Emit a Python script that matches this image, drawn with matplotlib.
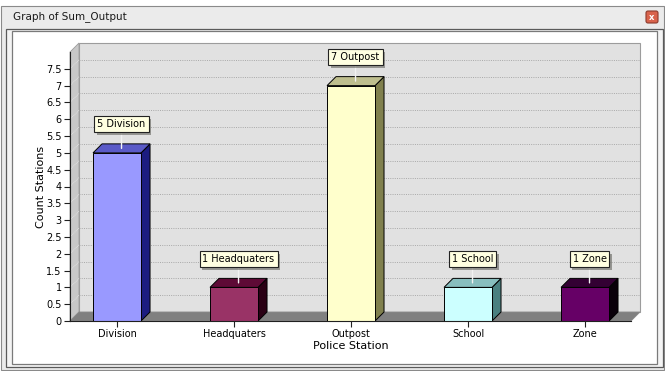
import matplotlib.pyplot as plt
from matplotlib.patches import Polygon, Rectangle, FancyBboxPatch
import matplotlib.patheffects as pe
import numpy as np

# data
categories = ['Division', 'Headquaters', 'Outpost', 'School', 'Zone']
counts = [5, 1, 7, 1, 1]
front_colors = ['#9999ff', '#993366', '#ffffcc', '#ccffff', '#660066']
top_colors = ['#5a5ac8', '#5e0a36', '#bebe8e', '#88bebe', '#330033']
side_colors = ['#1c1c80', '#2a0014', '#80804e', '#4a8080', '#0a000a']
yticks = np.arange(0, 8, 0.5)

W, H = 665, 371
fig = plt.figure(figsize=(W / 100, H / 100), dpi=100)

# window chrome drawn in a pixel-space background axes
bg = fig.add_axes([0, 0, 1, 1])
bg.set_xlim(0, W)
bg.set_ylim(H, 0)
bg.axis('off')
bg.add_patch(Rectangle((0, 0), W, H, fc='white', ec='none'))
bg.add_patch(Rectangle((1, 6), W - 2, H - 7, fc='#ebebeb', ec='#8a8a8a', lw=0.8))
grad = np.linspace(0, 1, 200).reshape(1, -1)
bg.imshow(np.vstack([grad] * 2), extent=(2, W - 2, 28, 7), cmap='Greys',
          vmin=-3.5, vmax=5, aspect='auto', alpha=0.35)
bg.text(13, 17, 'Graph of Sum_Output', fontsize=7.5, va='center', ha='left', color='#1a1a1a')
bg.add_patch(FancyBboxPatch((646, 11), 12, 12, boxstyle='round,pad=0,rounding_size=2',
                            fc='#d9634c', ec='#8c3a2c', lw=0.8))
bg.text(652, 17.5, 'x', fontsize=6, ha='center', va='center', color='white', fontweight='bold')
bg.add_patch(Rectangle((6, 29), 657, 338, fc='#f4f4f4', ec='#5a5a5a', lw=0.9))
bg.add_patch(Rectangle((12, 31), 645, 333, fc='white', ec='#7a7a7a', lw=0.9))

# chart axes
x_lo, x_hi = -0.402, 4.393
ymax = 8
ax = fig.add_axes([70 / W, 50 / H, 561 / W, 269 / H])
ax.set_xlim(x_lo, x_hi)
ax.set_ylim(0, ymax)
ax.patch.set_alpha(0)

px_x = 561 / (x_hi - x_lo)
px_y = 269 / ymax
dx, dy = 9 / px_x, 9 / px_y

# walls and floor
ax.add_patch(Rectangle((x_lo + dx, dy), x_hi - x_lo, ymax, fc='#e1e1e1', ec='#9c9c9c',
                       lw=0.8, zorder=0, clip_on=False))
ax.add_patch(Polygon([(x_lo, 0), (x_lo, ymax), (x_lo + dx, ymax + dy), (x_lo + dx, dy)],
                     fc='#c8c8c8', ec='#9c9c9c', lw=0.6, zorder=1, clip_on=False))
ax.add_patch(Polygon([(x_lo, 0), (x_hi, 0), (x_hi + dx, dy), (x_lo + dx, dy)],
                     fc='#808080', ec='#8a8a8a', lw=0.6, zorder=1, clip_on=False))
for y in yticks[1:]:
    ax.plot([x_lo + dx, x_hi + dx], [y + dy, y + dy], ls=(0, (1, 1.3)), color='#a8a8a8',
            lw=0.7, zorder=0.5, clip_on=False)
    ax.plot([x_lo, x_lo + dx], [y, y + dy], ls=(0, (1, 1)), color='#e6e6e6',
            lw=0.6, zorder=1.5, clip_on=False)

# 3D bars
w = 48 / px_x
for i, v in enumerate(counts):
    x0, x1 = i - w / 2, i + w / 2
    ax.add_patch(Polygon([(x1, 0), (x1 + dx, dy), (x1 + dx, v + dy), (x1, v)],
                         fc=side_colors[i], ec='black', lw=0.7, zorder=3, clip_on=False))
    ax.add_patch(Polygon([(x0, v), (x1, v), (x1 + dx, v + dy), (x0 + dx, v + dy)],
                         fc=top_colors[i], ec='black', lw=0.7, zorder=3, clip_on=False))
    ax.add_patch(Rectangle((x0, 0), w, v, fc=front_colors[i], ec='black', lw=0.7,
                           zorder=4, clip_on=False))
    t = ax.annotate(f'{v} {categories[i]}', xy=(i + dx / 2, v + dy / 2), xytext=(0, 19),
                    textcoords='offset pixels', ha='center', va='bottom', fontsize=7,
                    color='black', zorder=6,
                    bbox=dict(boxstyle='square,pad=0.3', fc='#ffffe1', ec='#222222', lw=0.8),
                    arrowprops=dict(arrowstyle='-', color='#f2f2f2', lw=1, shrinkA=0, shrinkB=0))
    t.get_bbox_patch().set_path_effects([pe.SimplePatchShadow(offset=(2, -2), alpha=0.5),
                                         pe.Normal()])

# axes styling
for s in ['top', 'right']:
    ax.spines[s].set_visible(False)
ax.spines['left'].set_color('#202020')
ax.spines['bottom'].set_color('#202020')
ax.spines['left'].set_zorder(5)
ax.spines['bottom'].set_zorder(5)
ax.set_yticks(yticks)
ax.set_yticklabels([f'{t:g}' for t in yticks])
ax.set_xticks(range(len(categories)))
ax.set_xticklabels(categories)
ax.tick_params(axis='both', labelsize=7, length=4, width=0.8, color='#202020', pad=2)
ax.set_xlabel('Police Station', fontsize=8, labelpad=1)
ax.set_ylabel('Count Stations', fontsize=8, labelpad=0)

fig.savefig('out.png', dpi=100)
